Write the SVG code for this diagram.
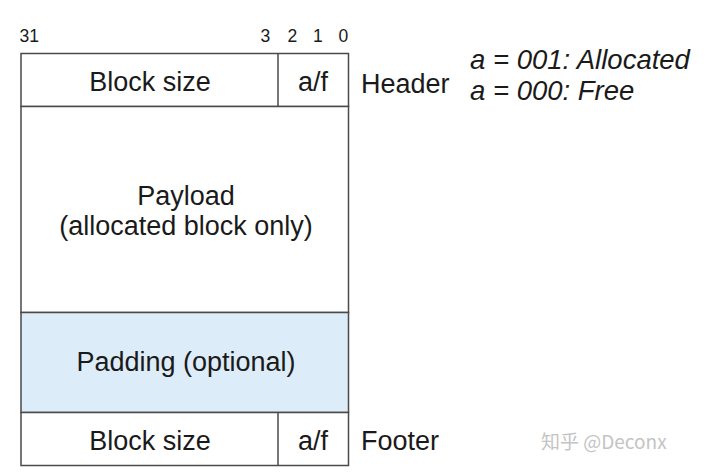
<svg xmlns="http://www.w3.org/2000/svg" width="727" height="474" viewBox="0 0 727 474">
<style>
text{font-family:"Liberation Sans",Arial,sans-serif;fill:#1a1a1a}
.big{font-size:27px}
.bit{font-size:17.5px}
.it{font-style:italic;font-size:27.5px}
.box{fill:#fff;stroke:#4a4a4a;stroke-width:1.5}
.mid{text-anchor:middle}
</style>
<rect width="727" height="474" fill="#fff"/>
<g id="bits">
<text class="bit" x="19.5" y="42">31</text>
<text class="bit" x="260.5" y="42">3</text>
<text class="bit" x="287.5" y="42">2</text>
<text class="bit" x="313" y="42">1</text>
<text class="bit" x="338.5" y="42">0</text>
</g>
<g id="header">
<rect class="box" x="21" y="53.5" width="327.5" height="53"/>
<line x1="278" y1="53.5" x2="278" y2="106.5" stroke="#4a4a4a" stroke-width="1.5"/>
<text class="big mid" x="150" y="90.5">Block size</text>
<text class="big mid" x="313" y="90.5">a/f</text>
</g>
<g id="payload">
<rect class="box" x="21" y="106.5" width="327.5" height="206"/>
<text class="big mid" x="186" y="204.5">Payload</text>
<text class="big mid" x="186" y="234.5">(allocated block only)</text>
</g>
<g id="padding">
<rect class="box" x="21" y="312.5" width="327.5" height="100" style="fill:#dcecf8"/>
<text class="big mid" x="186" y="370.5">Padding (optional)</text>
</g>
<g id="footer">
<rect class="box" x="21" y="412.5" width="327.5" height="53"/>
<line x1="278" y1="412.5" x2="278" y2="465.5" stroke="#4a4a4a" stroke-width="1.5"/>
<text class="big mid" x="150" y="449.5">Block size</text>
<text class="big mid" x="313" y="449.5">a/f</text>
</g>
<g id="labels">
<text class="big" x="361" y="92.5">Header</text>
<text class="big" x="361" y="449.5">Footer</text>
<text class="it" x="470" y="69">a = 001: Allocated</text>
<text class="it" x="470" y="100">a = 000: Free</text>
<text x="541" y="449" style="font-family:'Noto Sans CJK SC','Liberation Sans',sans-serif;font-size:19px;fill:#c4c4c4">知乎 @Deconx</text>
</g>
</svg>
